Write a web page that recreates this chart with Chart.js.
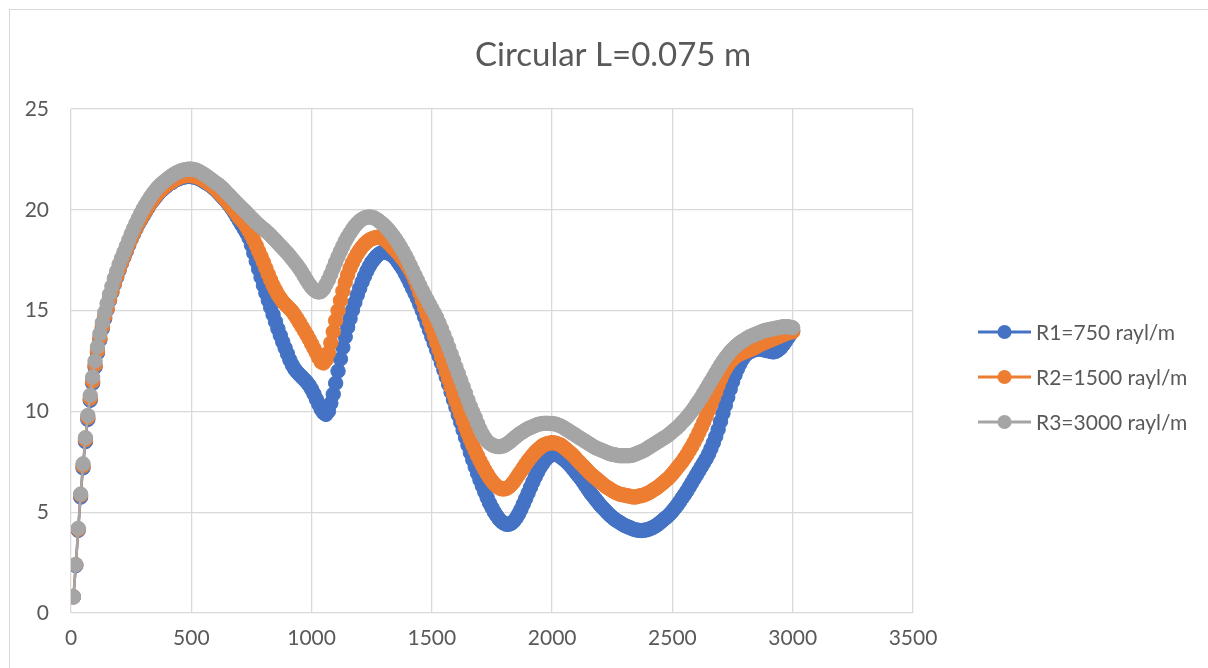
<!DOCTYPE html>
<html>
<head>
<meta charset="utf-8">
<script src="https://cdn.jsdelivr.net/npm/chart.js@4.4.0/dist/chart.umd.min.js"></script>
<style>
  html, body { margin: 0; padding: 0; background: #fff; }
  #wrap { position: relative; width: 1208px; height: 668px; overflow: hidden; }
  #frame { position: absolute; left: 9px; top: 9px; width: 1300px; height: 800px; border: 1px solid #d9d9d9; }
  #box { position: absolute; left: 0; top: 0; width: 1208px; height: 668px; }
</style>
</head>
<body>
<div id="wrap">
  <div id="frame"></div>
  <div id="box"><canvas id="chart"></canvas></div>
</div>
<script>
// frequency (Hz), one point every 10 Hz as in the reference
const freq = [
  10, 20, 30, 40, 50, 60, 70, 80, 90, 100,
  110, 120, 130, 140, 150, 160, 170, 180, 190, 200,
  210, 220, 230, 240, 250, 260, 270, 280, 290, 300,
  310, 320, 330, 340, 350, 360, 370, 380, 390, 400,
  410, 420, 430, 440, 450, 460, 470, 480, 490, 500,
  510, 520, 530, 540, 550, 560, 570, 580, 590, 600,
  610, 620, 630, 640, 650, 660, 670, 680, 690, 700,
  710, 720, 730, 740, 750, 760, 770, 780, 790, 800,
  810, 820, 830, 840, 850, 860, 870, 880, 890, 900,
  910, 920, 930, 940, 950, 960, 970, 980, 990, 1000,
  1010, 1020, 1030, 1040, 1050, 1060, 1070, 1080, 1090, 1100,
  1110, 1120, 1130, 1140, 1150, 1160, 1170, 1180, 1190, 1200,
  1210, 1220, 1230, 1240, 1250, 1260, 1270, 1280, 1290, 1300,
  1310, 1320, 1330, 1340, 1350, 1360, 1370, 1380, 1390, 1400,
  1410, 1420, 1430, 1440, 1450, 1460, 1470, 1480, 1490, 1500,
  1510, 1520, 1530, 1540, 1550, 1560, 1570, 1580, 1590, 1600,
  1610, 1620, 1630, 1640, 1650, 1660, 1670, 1680, 1690, 1700,
  1710, 1720, 1730, 1740, 1750, 1760, 1770, 1780, 1790, 1800,
  1810, 1820, 1830, 1840, 1850, 1860, 1870, 1880, 1890, 1900,
  1910, 1920, 1930, 1940, 1950, 1960, 1970, 1980, 1990, 2000,
  2010, 2020, 2030, 2040, 2050, 2060, 2070, 2080, 2090, 2100,
  2110, 2120, 2130, 2140, 2150, 2160, 2170, 2180, 2190, 2200,
  2210, 2220, 2230, 2240, 2250, 2260, 2270, 2280, 2290, 2300,
  2310, 2320, 2330, 2340, 2350, 2360, 2370, 2380, 2390, 2400,
  2410, 2420, 2430, 2440, 2450, 2460, 2470, 2480, 2490, 2500,
  2510, 2520, 2530, 2540, 2550, 2560, 2570, 2580, 2590, 2600,
  2610, 2620, 2630, 2640, 2650, 2660, 2670, 2680, 2690, 2700,
  2710, 2720, 2730, 2740, 2750, 2760, 2770, 2780, 2790, 2800,
  2810, 2820, 2830, 2840, 2850, 2860, 2870, 2880, 2890, 2900,
  2910, 2920, 2930, 2940, 2950, 2960, 2970, 2980, 2990, 3000
];

// R1 = 750 rayl/m
const r1 = [
  0.8, 2.35, 4.1, 5.75, 7.2, 8.5, 9.6, 10.55, 11.4, 12.2,
  12.9, 13.55, 14.1, 14.6, 15.05, 15.5, 15.9, 16.3, 16.65, 17.0,
  17.35, 17.65, 17.95, 18.25, 18.55, 18.8, 19.05, 19.3, 19.5, 19.7,
  19.9, 20.1, 20.3, 20.45, 20.6, 20.75, 20.9, 21.0, 21.1, 21.2,
  21.3, 21.35, 21.45, 21.5, 21.55, 21.6, 21.62, 21.65, 21.65, 21.65,
  21.62, 21.6, 21.55, 21.5, 21.42, 21.35, 21.28, 21.2, 21.1, 21.0,
  20.88, 20.75, 20.62, 20.5, 20.35, 20.2, 20.03, 19.85, 19.65, 19.45,
  19.25, 19.05, 18.85, 18.6, 18.25, 17.85, 17.45, 17.05, 16.65, 16.25,
  15.87, 15.5, 15.15, 14.8, 14.45, 14.1, 13.77, 13.45, 13.15, 12.85,
  12.55, 12.3, 12.1, 11.95, 11.82, 11.7, 11.58, 11.45, 11.3, 11.1,
  10.87, 10.6, 10.35, 10.1, 9.93, 9.85, 10.0, 10.4, 10.85, 11.4,
  12.0, 12.6, 13.17, 13.7, 14.17, 14.6, 15.02, 15.4, 15.77, 16.1,
  16.42, 16.7, 16.97, 17.2, 17.4, 17.55, 17.7, 17.8, 17.87, 17.9,
  17.9, 17.85, 17.78, 17.7, 17.57, 17.4, 17.23, 17.05, 16.83, 16.6,
  16.35, 16.1, 15.85, 15.6, 15.3, 15.0, 14.68, 14.35, 14.03, 13.7,
  13.37, 13.05, 12.73, 12.4, 12.05, 11.7, 11.33, 10.95, 10.57, 10.2,
  9.82, 9.45, 9.07, 8.7, 8.32, 7.95, 7.6, 7.25, 6.92, 6.6,
  6.3, 6.0, 5.72, 5.45, 5.22, 5.0, 4.82, 4.65, 4.53, 4.45,
  4.4, 4.4, 4.45, 4.55, 4.7, 4.9, 5.13, 5.4, 5.67, 5.95,
  6.23, 6.5, 6.76, 7.0, 7.22, 7.4, 7.57, 7.7, 7.8, 7.85,
  7.87, 7.85, 7.79, 7.7, 7.61, 7.5, 7.38, 7.25, 7.1, 6.95,
  6.8, 6.65, 6.48, 6.3, 6.12, 5.95, 5.8, 5.65, 5.5, 5.35,
  5.22, 5.1, 4.97, 4.85, 4.75, 4.65, 4.57, 4.5, 4.42, 4.35,
  4.3, 4.25, 4.2, 4.15, 4.12, 4.1, 4.09, 4.1, 4.12, 4.15,
  4.2, 4.25, 4.32, 4.4, 4.5, 4.6, 4.7, 4.8, 4.92, 5.05,
  5.2, 5.35, 5.52, 5.7, 5.87, 6.05, 6.25, 6.45, 6.65, 6.85,
  7.05, 7.25, 7.45, 7.65, 7.88, 8.15, 8.44, 8.75, 9.1, 9.5,
  9.9, 10.3, 10.7, 11.1, 11.47, 11.8, 12.1, 12.35, 12.57, 12.75,
  12.87, 12.95, 13.0, 13.05, 13.08, 13.1, 13.08, 13.05, 13.02, 13.0,
  12.97, 12.95, 12.98, 13.05, 13.15, 13.3, 13.47, 13.65, 13.83, 14.0
];

// R2 = 1500 rayl/m
const r2 = [
  0.8, 2.4, 4.15, 5.85, 7.3, 8.6, 9.7, 10.65, 11.5, 12.3,
  13.0, 13.65, 14.2, 14.7, 15.1, 15.55, 15.95, 16.35, 16.7, 17.05,
  17.38, 17.7, 18.0, 18.3, 18.58, 18.85, 19.1, 19.35, 19.55, 19.75,
  19.95, 20.15, 20.33, 20.5, 20.65, 20.8, 20.93, 21.05, 21.15, 21.25,
  21.33, 21.4, 21.48, 21.55, 21.6, 21.65, 21.68, 21.7, 21.7, 21.7,
  21.68, 21.65, 21.6, 21.55, 21.48, 21.4, 21.33, 21.25, 21.15, 21.05,
  20.93, 20.8, 20.68, 20.55, 20.4, 20.25, 20.1, 19.95, 19.78, 19.6,
  19.48, 19.35, 19.15, 18.95, 18.73, 18.5, 18.23, 17.95, 17.68, 17.4,
  17.1, 16.8, 16.52, 16.25, 16.02, 15.8, 15.62, 15.45, 15.32, 15.2,
  15.08, 14.95, 14.78, 14.6, 14.4, 14.2, 14.0, 13.8, 13.58, 13.35,
  13.12, 12.9, 12.65, 12.45, 12.4, 12.55, 12.9, 13.4, 13.95, 14.5,
  15.0, 15.5, 15.97, 16.4, 16.77, 17.1, 17.37, 17.6, 17.82, 18.0,
  18.16, 18.3, 18.41, 18.5, 18.56, 18.6, 18.63, 18.65, 18.62, 18.55,
  18.46, 18.35, 18.23, 18.1, 17.98, 17.85, 17.7, 17.55, 17.4, 17.2,
  17.0, 16.78, 16.5, 16.2, 15.86, 15.5, 15.15, 14.8, 14.45, 14.1,
  13.75, 13.4, 13.05, 12.7, 12.33, 11.95, 11.58, 11.2, 10.85, 10.5,
  10.17, 9.85, 9.52, 9.2, 8.9, 8.6, 8.32, 8.05, 7.8, 7.55,
  7.32, 7.1, 6.9, 6.7, 6.54, 6.4, 6.29, 6.2, 6.16, 6.15,
  6.18, 6.25, 6.36, 6.5, 6.67, 6.85, 7.02, 7.2, 7.38, 7.55,
  7.7, 7.85, 7.98, 8.1, 8.2, 8.3, 8.36, 8.4, 8.43, 8.45,
  8.44, 8.4, 8.36, 8.3, 8.2, 8.1, 8.0, 7.9, 7.78, 7.65,
  7.52, 7.4, 7.28, 7.15, 7.02, 6.9, 6.8, 6.7, 6.6, 6.5,
  6.4, 6.3, 6.22, 6.15, 6.07, 6.0, 5.95, 5.9, 5.87, 5.85,
  5.82, 5.8, 5.77, 5.75, 5.76, 5.8, 5.82, 5.85, 5.9, 5.95,
  6.02, 6.1, 6.17, 6.25, 6.35, 6.45, 6.55, 6.65, 6.77, 6.9,
  7.05, 7.2, 7.35, 7.5, 7.67, 7.85, 8.05, 8.25, 8.47, 8.7,
  8.95, 9.2, 9.47, 9.75, 10.05, 10.35, 10.65, 10.95, 11.28, 11.6,
  11.87, 12.1, 12.3, 12.45, 12.58, 12.7, 12.78, 12.85, 12.9, 12.95,
  13.0, 13.05, 13.1, 13.15, 13.22, 13.3, 13.35, 13.4, 13.45, 13.5,
  13.55, 13.6, 13.65, 13.7, 13.75, 13.8, 13.85, 13.9, 13.93, 13.95
];

// R3 = 3000 rayl/m
const r3 = [
  0.8, 2.4, 4.2, 5.9, 7.4, 8.7, 9.8, 10.8, 11.7, 12.5,
  13.2, 13.85, 14.4, 14.9, 15.35, 15.8, 16.2, 16.6, 16.95, 17.3,
  17.6, 17.9, 18.2, 18.5, 18.8, 19.07, 19.33, 19.58, 19.82, 20.05,
  20.25, 20.45, 20.63, 20.8, 20.95, 21.1, 21.22, 21.33, 21.43, 21.52,
  21.62, 21.7, 21.78, 21.85, 21.9, 21.95, 21.98, 22.0, 22.02, 22.02,
  22.0, 21.97, 21.92, 21.85, 21.78, 21.7, 21.62, 21.53, 21.44, 21.35,
  21.27, 21.18, 21.07, 20.95, 20.82, 20.7, 20.57, 20.45, 20.32, 20.2,
  20.08, 19.97, 19.85, 19.72, 19.6, 19.48, 19.36, 19.25, 19.15, 19.05,
  18.95, 18.85, 18.73, 18.6, 18.48, 18.35, 18.22, 18.1, 17.97, 17.85,
  17.7, 17.55, 17.4, 17.25, 17.08, 16.9, 16.7, 16.5, 16.32, 16.15,
  16.03, 15.95, 15.92, 15.95, 16.08, 16.3, 16.53, 16.8, 17.1, 17.4,
  17.68, 17.95, 18.2, 18.45, 18.66, 18.85, 19.03, 19.2, 19.33, 19.45,
  19.53, 19.6, 19.63, 19.65, 19.63, 19.6, 19.53, 19.45, 19.35, 19.25,
  19.13, 19.0, 18.85, 18.7, 18.53, 18.35, 18.15, 17.95, 17.73, 17.5,
  17.25, 17.0, 16.75, 16.5, 16.25, 16.0, 15.77, 15.55, 15.32, 15.1,
  14.88, 14.65, 14.38, 14.1, 13.8, 13.5, 13.18, 12.85, 12.53, 12.2,
  11.88, 11.55, 11.23, 10.9, 10.57, 10.25, 9.97, 9.7, 9.4, 9.12,
  8.88, 8.68, 8.53, 8.42, 8.34, 8.29, 8.26, 8.25, 8.27, 8.3,
  8.37, 8.45, 8.55, 8.65, 8.75, 8.85, 8.93, 9.0, 9.08, 9.15,
  9.2, 9.25, 9.3, 9.35, 9.38, 9.4, 9.41, 9.41, 9.4, 9.4,
  9.38, 9.35, 9.3, 9.25, 9.18, 9.1, 9.03, 8.95, 8.88, 8.8,
  8.72, 8.65, 8.57, 8.5, 8.42, 8.35, 8.27, 8.2, 8.15, 8.1,
  8.05, 8.0, 7.95, 7.9, 7.87, 7.85, 7.82, 7.8, 7.8, 7.8,
  7.8, 7.8, 7.82, 7.85, 7.9, 7.95, 8.0, 8.05, 8.12, 8.2,
  8.27, 8.35, 8.42, 8.5, 8.57, 8.65, 8.72, 8.8, 8.9, 9.0,
  9.1, 9.2, 9.32, 9.45, 9.57, 9.7, 9.85, 10.0, 10.17, 10.35,
  10.52, 10.7, 10.9, 11.1, 11.3, 11.5, 11.7, 11.9, 12.1, 12.3,
  12.48, 12.65, 12.8, 12.95, 13.08, 13.2, 13.3, 13.4, 13.48, 13.55,
  13.63, 13.7, 13.75, 13.8, 13.85, 13.9, 13.95, 14.0, 14.03, 14.05,
  14.08, 14.1, 14.13, 14.15, 14.18, 14.2, 14.2, 14.2, 14.18, 14.15
];

const titleText = 'Circular L=0.075 m';
const seriesNames = ['R1=750 rayl/m', 'R2=1500 rayl/m', 'R3=3000 rayl/m'];
const seriesColors = ['#4472C4', '#ED7D31', '#A5A5A5'];
const xTicks = [0, 500, 1000, 1500, 2000, 2500, 3000, 3500];
const yTicks = [0, 5, 10, 15, 20, 25];

const FONT = 'Lato, "Open Sans", sans-serif';
const TEXT = '#595959';
const GRID = '#d9d9d9';

function toPoints(ys) {
  return freq.map((f, i) => ({ x: f, y: ys[i] }));
}

function makeSet(label, ys, color, order) {
  return {
    label,
    data: toPoints(ys),
    borderColor: color,
    backgroundColor: color,
    borderWidth: 2.5,
    pointRadius: 7.2,
    pointBorderWidth: 1,
    pointBorderColor: color,
    pointBackgroundColor: color,
    tension: 0.4,
    order,
  };
}

// title centred on the whole chart, legend to the right (line + marker + text)
const decorations = {
  id: 'decorations',
  afterDraw(chart) {
    const ctx = chart.ctx;
    ctx.save();
    ctx.fillStyle = TEXT;
    ctx.font = '33px ' + FONT;
    ctx.textAlign = 'center';
    ctx.textBaseline = 'alphabetic';
    ctx.fillText(titleText, 613, 66);

    const x0 = 978, x1 = 1031, rows = [332, 377, 422];
    ctx.font = '21px ' + FONT;
    ctx.textAlign = 'left';
    ctx.textBaseline = 'middle';
    seriesNames.forEach((name, i) => {
      const y = rows[i];
      ctx.strokeStyle = seriesColors[i];
      ctx.lineWidth = 3;
      ctx.beginPath();
      ctx.moveTo(x0, y);
      ctx.lineTo(x1, y);
      ctx.stroke();
      ctx.fillStyle = seriesColors[i];
      ctx.beginPath();
      ctx.arc((x0 + x1) / 2, y, 7, 0, Math.PI * 2);
      ctx.fill();
      ctx.fillStyle = TEXT;
      ctx.fillText(name, 1036, y + 1);
    });
    ctx.restore();
  },
};

new Chart(document.getElementById('chart'), {
  type: 'line',
  data: {
    datasets: [
      makeSet(seriesNames[0], r1, seriesColors[0], 3),
      makeSet(seriesNames[1], r2, seriesColors[1], 2),
      makeSet(seriesNames[2], r3, seriesColors[2], 1),
    ],
  },
  options: {
    responsive: true,
    maintainAspectRatio: false,
    animation: false,
    layout: { padding: { left: 0, right: 295, top: 109, bottom: 0 } },
    plugins: {
      legend: { display: false },
      tooltip: { enabled: false },
      title: { display: false },
    },
    scales: {
      x: {
        type: 'linear',
        min: 0,
        max: 3500,
        afterBuildTicks: (axis) => { axis.ticks = xTicks.map(v => ({ value: v })); },
        afterFit: (axis) => { axis.height = 55; },
        grid: { color: GRID, lineWidth: 1.3, drawTicks: false },
        border: { display: false },
        ticks: {
          color: TEXT,
          font: { family: FONT, size: 21 },
          padding: 13,
          maxRotation: 0,
          callback: (v) => String(v),
        },
      },
      y: {
        min: 0,
        max: 25,
        afterBuildTicks: (axis) => { axis.ticks = yTicks.map(v => ({ value: v })); },
        afterFit: (axis) => { axis.width = 71; },
        grid: { color: GRID, lineWidth: 1.3, drawTicks: false },
        border: { display: false },
        ticks: {
          color: TEXT,
          font: { family: FONT, size: 21 },
          padding: 22,
          callback: (v) => String(v),
        },
      },
    },
  },
  plugins: [decorations],
});
</script>
</body>
</html>
